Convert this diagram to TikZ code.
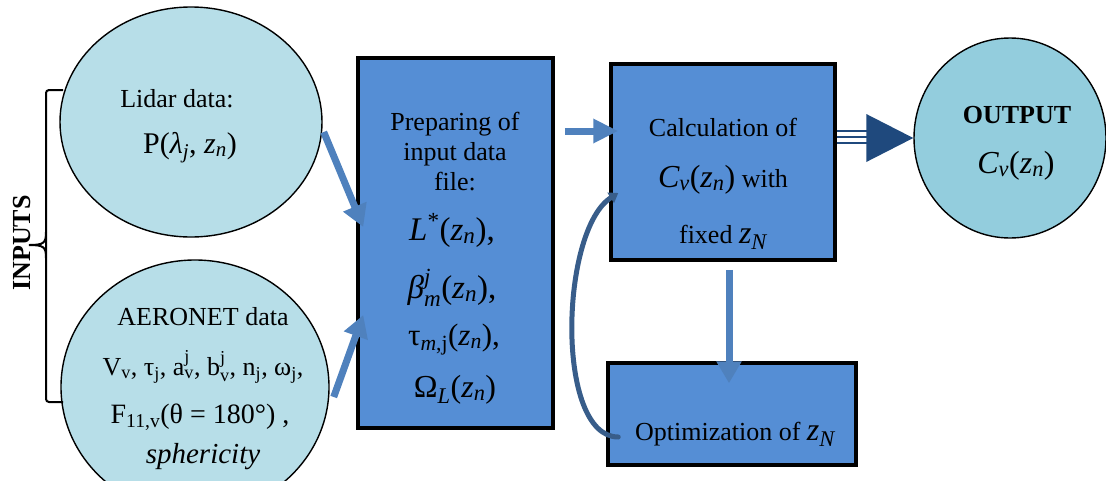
\documentclass[tikz,border=0pt]{standalone}
\usepackage{amsmath}
\usepackage{fontspec}
\setmainfont{Liberation Serif}
\usetikzlibrary{shapes.geometric,arrows.meta,calc}

\definecolor{ellfill}{HTML}{B7DEE8}
\definecolor{outfill}{HTML}{93CDDD}
\definecolor{boxfill}{HTML}{558ED5}
\definecolor{arrowc}{HTML}{4F81BD}
\definecolor{curvec}{HTML}{385D8A}
\definecolor{triplec}{HTML}{1F497D}

% formulas: math layout, glyphs taken from the (scalable) text font
\newcommand{\iv}[1]{\text{\itshape #1}}
\newcommand{\uv}[1]{\text{\upshape #1}}
\newcommand{\zn}{\iv{z}_{\iv{n}}}
\newcommand{\mth}[2][31]{{\fontsize{#1}{#1}\selectfont$#2$}}

\begin{document}
\begin{tikzpicture}[x=1pt,y=-1pt,
  txt/.style={anchor=base, inner sep=0pt, font=\fontsize{26}{30}\selectfont},
  ell/.style={ellipse, draw=black, line width=1.4pt, fill=ellfill, inner sep=0pt},
  blk/.style={rectangle, draw=black, line width=3.5pt, fill=boxfill, inner sep=0pt},
  flow/.style={draw=arrowc, line width=7pt, -{Triangle[length=22pt,width=24pt]}},
  loopback/.style={draw=curvec, line width=5pt, line cap=round, -{Triangle[length=9pt,width=12pt]}},
  triple/.style={draw=triplec, line width=2.2pt},
]
\path[use as bounding box, clip] (0,0) rectangle (1106,480);

% input ellipses
\node[ell, minimum width=262, minimum height=230] (lidar) at (191,122) {};
\node[ell, minimum width=268, minimum height=254] (aero) at (195,387) {};

% processing blocks
\node[blk, minimum width=195, minimum height=370] (prep) at (455.5,243) {};
\node[blk, minimum width=224, minimum height=196] (calc) at (723,162) {};
\node[blk, minimum width=248, minimum height=102] (opt) at (732,414) {};

% result circle
\node[ellipse, draw=black, line width=1.4pt, fill=outfill, inner sep=0pt,
      minimum width=192, minimum height=200] (out) at (1010,138) {};

% brace grouping the inputs
\draw[line width=2pt, rounded corners=3pt] (63,90) -| (46,402) -- (63,402);
\draw[line width=2pt] (46,232) .. controls (46,243) and (44,245) .. (29,245)
                      .. controls (44,245) and (46,247) .. (46,258);
\node[rotate=90, inner sep=0pt, font=\fontsize{26}{30}\selectfont\bfseries] (inp) at (22,243) {INPUTS};

% texts
\node[txt] (lid1) at (177,107) {Lidar data:};
\node[txt] (lid2) at (190,153) {\mth[30]{\uv{P(}\iv{λ}_{\iv{j}}\uv{, }\zn\uv{)}}};

\node[txt] (aer1) at (203,325) {AERONET data};
\node[txt] (aer2) at (203,375) {$\uv{V}_{\uv{v}}\uv{, τ}_{\uv{j}}\uv{, a}^{\uv{j}}_{\uv{v}}\uv{, b}^{\uv{j}}_{\uv{v}}\uv{, n}_{\uv{j}}\uv{, ω}_{\uv{j}}\uv{,}$};
\node[txt] (aer3) at (200,423) {\mth[28]{\uv{F}_{\uv{11,v}}\uv{(θ = 180°) ,}}};
\node[txt] (aer4) at (203,463) {\mth[29]{\iv{sphericity}}};

\node[txt] (pre1) at (455,130) {Preparing of};
\node[txt] (pre2) at (455,160) {input data};
\node[txt] (pre3) at (455,190) {file:};
\node[txt] (pre4) at (452,240) {\mth[33]{\iv{L}^{\uv{*}}\uv{(}\zn\uv{),}}};
\node[txt] (pre5) at (452,298) {\mth[33]{\iv{β}^{\iv{j}}_{\iv{m}}\uv{(}\zn\uv{),}}};
\node[txt] (pre6) at (454,345) {\mth[31]{\uv{τ}_{\iv{m}\uv{,j}}\uv{(}\zn\uv{),}}};
\node[txt] (pre7) at (455,397) {\mth[32]{\uv{Ω}_{\iv{L}}\uv{(}\zn\uv{)}}};

\node[txt] (cal1) at (723,136) {Calculation of};
\node[txt] (cal2) at (723,187) {\mth[32]{\iv{C}_{\iv{v}}\uv{(}\zn\uv{)}} with};
\node[txt] (cal3) at (723,243) {fixed \mth[32]{\iv{z}_{\iv{N}}}};

\node[txt] (opt1) at (735,440) {Optimization of \mth[32]{\iv{z}_{\iv{N}}}};

\node[txt] (out1) at (1017,123) {\textbf{OUTPUT}};
\node[txt] (out2) at (1016,173) {\mth[32]{\iv{C}_{\iv{v}}\uv{(}\zn\uv{)}}};

% connectors
\draw[flow] ($(lidar.east)+(1,10)$) -- ($(prep.west)+(7,-16)$);
\draw[flow] ($(aero.east)+(4,10)$) -- ($(prep.west)+(7,72)$);
\draw[flow, -{Triangle[length=25pt,width=23pt]}] ($(prep.east)+(10,-112)$) -- ($(calc.west)+(9,-31)$);
\draw[flow] ($(calc.south)+(6,8)$) -- ($(opt.north)+(-3,22)$);
\draw[loopback] ($(opt.west)+(12,23)$) .. controls (555,437) and (560,230) .. ($(calc.west)+(9,31)$);

% triple-line arrow to the output
\coordinate (tbase) at ($(calc.east)+(0,-25)$);
\coordinate (ttip) at (out.west);
\draw[triple] ($(tbase)+(0,-6)$) -- ($(tbase)+(32,-6)$);
\draw[triple] (tbase) -- ($(tbase)+(32,0)$);
\draw[triple] ($(tbase)+(0,6)$) -- ($(tbase)+(32,6)$);
\fill[triplec] ($(ttip)+(-47,-24)$) -- (ttip) -- ($(ttip)+(-47,24)$) -- cycle;
\end{tikzpicture}
\end{document}
